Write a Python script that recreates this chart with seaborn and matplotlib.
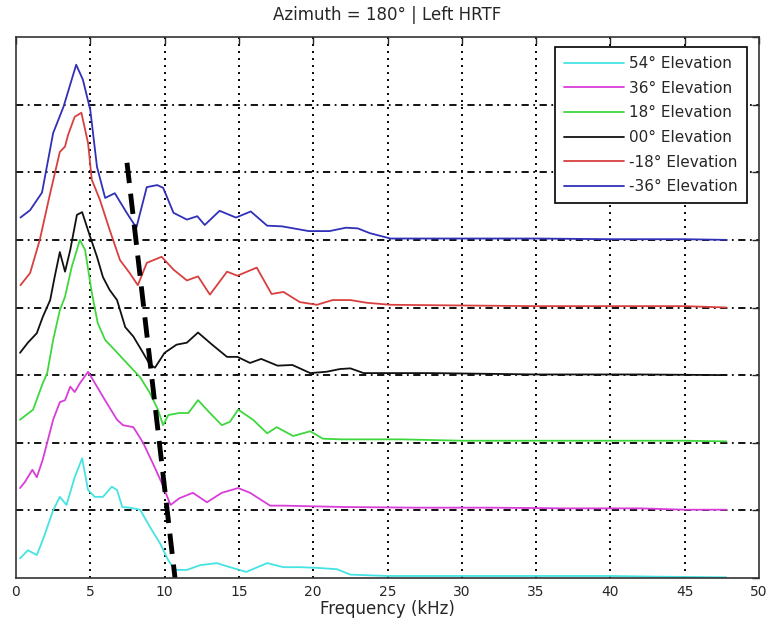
import numpy as np
import pandas as pd
import seaborn as sns
from matplotlib import pyplot as plt
from matplotlib.lines import Line2D

sns.set_style("white")
plt.rcParams['font.family'] = ['DejaVu Sans']

# frequency (kHz) / stacked magnitude
f_54 = [0.27, 0.8, 1.4, 1.8, 2.5, 2.95, 3.4, 3.95, 4.45, 4.85, 5.3, 5.85, 6.45, 6.8, 7.15,
        7.65, 8.35, 9.0, 9.7, 10.25, 10.7, 11.5, 12.4, 13.5, 14.4, 15.5, 16.9, 18.0, 19.1,
        20.25, 21.6, 22.5, 25.0, 30.0, 35.0, 40.0, 43.0, 47.8]
m_54 = [0.29, 0.41, 0.34, 0.56, 1.0, 1.20, 1.08, 1.49, 1.77, 1.30, 1.20, 1.20, 1.35, 1.30, 1.05,
        1.04, 1.01, 0.76, 0.51, 0.26, 0.12, 0.12, 0.19, 0.22, 0.16, 0.09, 0.22, 0.16, 0.16,
        0.15, 0.13, 0.05, 0.03, 0.03, 0.03, 0.03, 0.02, 0.01]

f_36 = [0.27, 0.6, 1.1, 1.4, 1.8, 2.5, 2.95, 3.3, 3.65, 3.95, 4.3, 4.85, 5.45, 6.1, 6.8,
        7.2, 7.9, 8.55, 9.2, 9.8, 10.4, 11.0, 11.9, 12.85, 13.85, 14.95, 15.75, 17.1, 18.0,
        22.0, 27.0, 32.0, 37.0, 42.0, 45.0, 47.8]
m_36 = [1.33, 1.42, 1.60, 1.49, 1.75, 2.34, 2.60, 2.63, 2.83, 2.75, 2.88, 3.05, 2.83, 2.59, 2.34,
        2.26, 2.23, 2.0, 1.70, 1.41, 1.08, 1.18, 1.26, 1.12, 1.26, 1.33, 1.26, 1.07, 1.07,
        1.05, 1.04, 1.04, 1.03, 1.03, 1.01, 1.01]

f_18 = [0.27, 1.15, 1.8, 2.1, 2.5, 2.95, 3.3, 3.75, 4.3, 4.65, 5.1, 5.5, 6.0, 6.65, 7.45,
        8.35, 9.0, 9.55, 9.9, 10.25, 11.0, 11.6, 12.25, 13.05, 13.85, 14.4, 14.95, 15.95,
        16.9, 17.55, 18.65, 19.8, 20.65, 21.9, 26.0, 30.0, 35.0, 40.0, 45.0, 47.8]
m_18 = [2.34, 2.49, 2.88, 3.03, 3.52, 3.96, 4.16, 4.60, 5.0, 4.85, 4.22, 3.77, 3.52, 3.37, 3.18,
        2.97, 2.74, 2.49, 2.26, 2.41, 2.44, 2.44, 2.63, 2.44, 2.26, 2.31, 2.49, 2.34,
        2.14, 2.23, 2.10, 2.17, 2.06, 2.05, 2.05, 2.03, 2.03, 2.03, 2.03, 2.02]

f_00 = [0.27, 0.8, 1.4, 1.8, 2.3, 2.6, 2.95, 3.3, 3.65, 4.1, 4.45, 5.0, 5.45, 5.85, 6.3,
        6.8, 7.35, 7.9, 8.55, 9.0, 9.35, 10.0, 10.8, 11.5, 12.25, 13.2, 14.2, 14.9, 15.75,
        16.5, 17.6, 18.6, 19.8, 20.9, 21.8, 22.5, 23.4, 27.0, 28.0, 35.0, 42.0, 47.8]
m_00 = [3.33, 3.48, 3.62, 3.86, 4.11, 4.45, 4.82, 4.53, 4.85, 5.37, 5.41, 5.04, 4.75, 4.45, 4.26,
        4.11, 3.71, 3.57, 3.33, 3.16, 3.11, 3.33, 3.45, 3.48, 3.63, 3.45, 3.27, 3.27, 3.18,
        3.24, 3.14, 3.15, 3.03, 3.05, 3.09, 3.10, 3.03, 3.03, 3.03, 3.01, 3.01, 3.0]

f_m18 = [0.3, 0.95, 1.6, 2.3, 2.95, 3.3, 3.5, 3.95, 4.4, 4.85, 5.1, 5.65, 6.3, 7.0, 7.65,
         8.2, 8.8, 9.8, 10.6, 11.5, 12.25, 13.05, 14.2, 14.9, 16.2, 17.2, 18.0, 19.1,
         20.25, 21.3, 22.5, 23.6, 25.2, 30.0, 35.0, 40.0, 45.0, 47.8]
m_m18 = [4.33, 4.51, 5.0, 5.69, 6.30, 6.38, 6.55, 6.82, 6.88, 6.43, 5.89, 5.59, 5.15, 4.70, 4.51,
         4.33, 4.66, 4.75, 4.56, 4.40, 4.46, 4.19, 4.53, 4.47, 4.59, 4.20, 4.23, 4.08,
         4.04, 4.11, 4.11, 4.07, 4.04, 4.03, 4.02, 4.02, 4.02, 4.0]

f_m36 = [0.3, 0.95, 1.75, 2.5, 3.2, 4.05, 4.5, 5.0, 5.45, 6.0, 6.65, 7.45, 8.1, 8.8, 9.5,
         9.9, 10.6, 11.5, 12.2, 12.7, 13.7, 14.8, 15.8, 16.9, 17.9, 19.7, 21.1, 22.2, 23.0,
         23.8, 25.2, 30.0, 35.0, 40.0, 45.0, 47.8]
m_m36 = [5.33, 5.44, 5.70, 6.58, 6.97, 7.59, 7.37, 6.92, 6.08, 5.62, 5.69, 5.40, 5.18, 5.78, 5.81,
         5.77, 5.40, 5.30, 5.35, 5.22, 5.43, 5.33, 5.42, 5.21, 5.20, 5.13, 5.13, 5.18, 5.17,
         5.10, 5.02, 5.02, 5.02, 5.01, 5.01, 5.0]

labels = ['54° Elevation', '36° Elevation', '18° Elevation',
          '00° Elevation', '-18° Elevation', '-36° Elevation']
colors = ['#45e3e3', '#d83ed8', '#3ed83e', '#111111', '#d84040', '#3030b8']
notch_f = [7.47, 10.7]
notch_m = [6.14, 0.0]

series = [(f_54, m_54), (f_36, m_36), (f_18, m_18), (f_00, m_00), (f_m18, m_m18), (f_m36, m_m36)]
df = pd.concat([pd.DataFrame({'freq': f, 'mag': m, 'elev': lab})
                for (f, m), lab in zip(series, labels)], ignore_index=True)

fig = plt.figure(figsize=(7.7, 6.31), dpi=100)
ax = fig.add_axes([16 / 770, 1 - 578 / 631, 743 / 770, 541 / 631])

sns.lineplot(data=df, x='freq', y='mag', hue='elev', hue_order=labels,
             palette=dict(zip(labels, colors)), estimator=None, sort=True,
             linewidth=1.3, ax=ax, legend=False)
sns.lineplot(x=notch_f, y=notch_m, color='black', linewidth=3.5, ax=ax,
             linestyle=(0, (4.2, 2.2)))

ax.set_xlim(0, 50)
ax.set_ylim(0, 8)
ax.set_xticks(range(0, 51, 5))
ax.set_yticks(range(0, 9))
ax.set_yticklabels([])
for x in range(5, 50, 5):
    ax.axvline(x, color='black', linewidth=1.4, linestyle=(0, (1, 2.6)), zorder=0)
for y in range(1, 8):
    ax.axhline(y, color='black', linewidth=1.3, linestyle=(0, (4, 2.5, 1, 2.5)), zorder=0)

ax.tick_params(direction='in', length=5, top=True, right=True, labelsize=10, width=1, pad=5)
for s in ax.spines.values():
    s.set_color('#333333')
    s.set_linewidth(1.2)

ax.set_xlabel('Frequency (kHz)', fontsize=12, labelpad=1)
ax.set_ylabel('')
ax.set_title('Azimuth = 180° | Left HRTF', fontsize=12, pad=12)

handles = [Line2D([], [], color=c, linewidth=1.3) for c in colors]
leg = ax.legend(handles, labels, loc='upper right', bbox_to_anchor=(0.984, 0.9815),
                borderaxespad=0, fontsize=11, handlelength=3.9, handletextpad=0.35,
                labelspacing=0.63, borderpad=0.6, fancybox=False, framealpha=1,
                edgecolor='black')
leg.get_frame().set_linewidth(1.2)

fig.savefig('out.png', dpi=100)
